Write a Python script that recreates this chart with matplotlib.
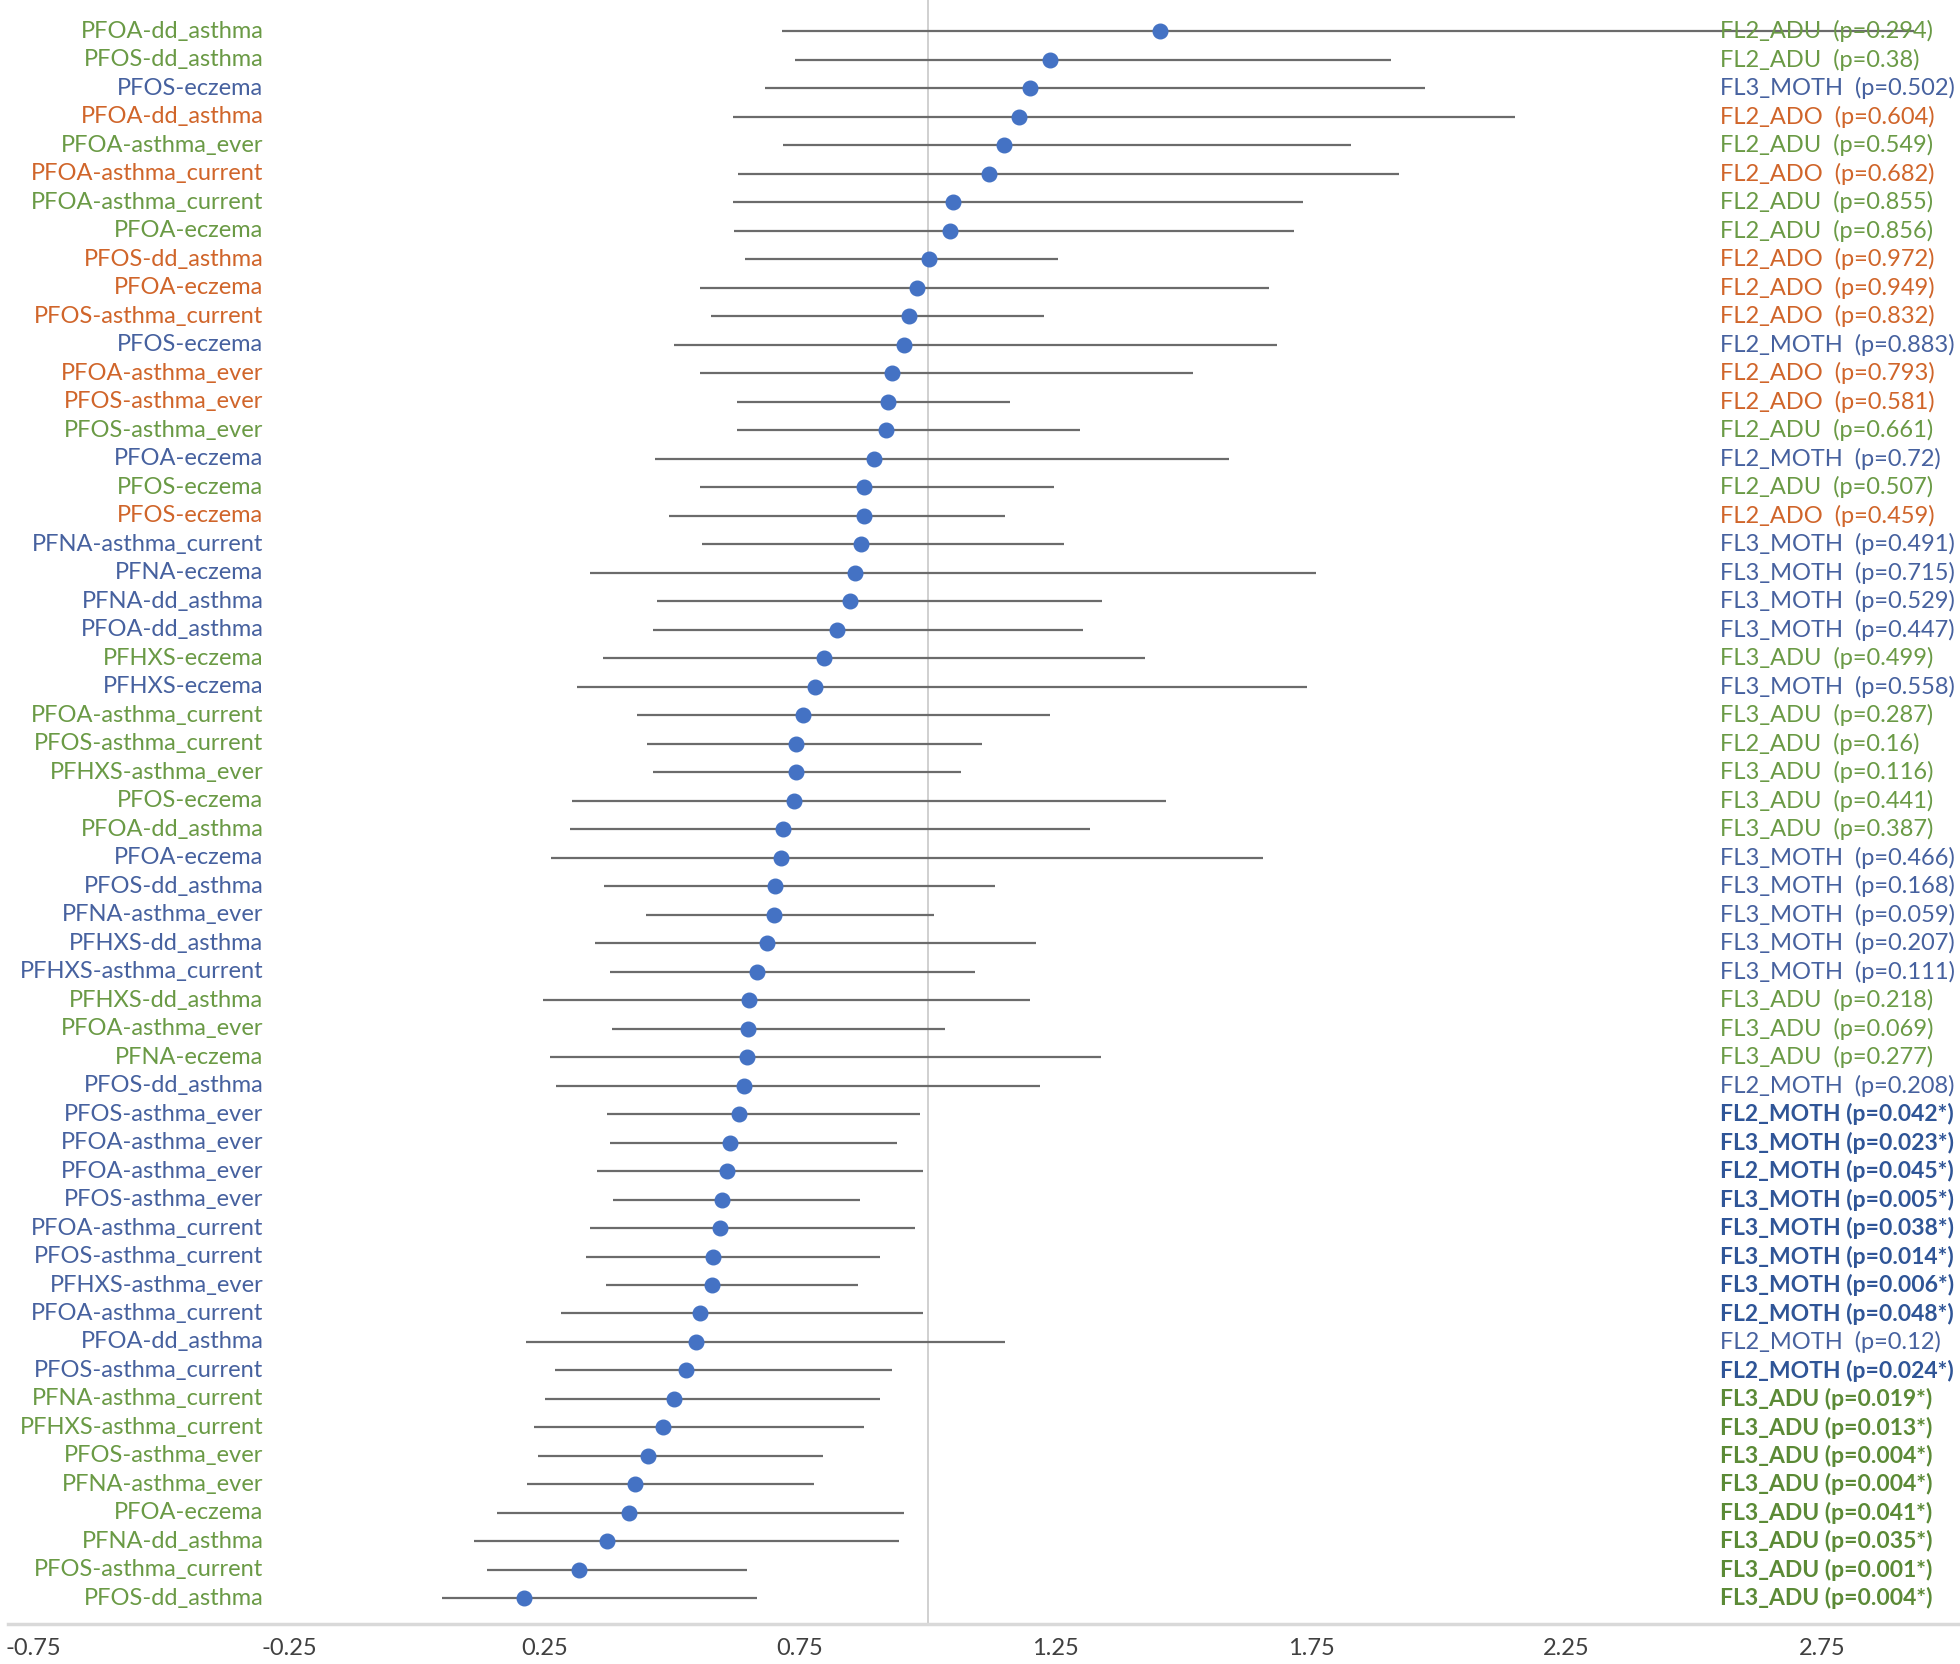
import matplotlib.pyplot as plt
import numpy as np

plt.rcParams['font.family'] = ['Lato', 'DejaVu Sans']

# row labels, top to bottom
labels = ['PFOA-dd_asthma', 'PFOS-dd_asthma', 'PFOS-eczema', 'PFOA-dd_asthma',
          'PFOA-asthma_ever', 'PFOA-asthma_current', 'PFOA-asthma_current', 'PFOA-eczema',
          'PFOS-dd_asthma', 'PFOA-eczema', 'PFOS-asthma_current', 'PFOS-eczema',
          'PFOA-asthma_ever', 'PFOS-asthma_ever', 'PFOS-asthma_ever', 'PFOA-eczema',
          'PFOS-eczema', 'PFOS-eczema', 'PFNA-asthma_current', 'PFNA-eczema',
          'PFNA-dd_asthma', 'PFOA-dd_asthma', 'PFHXS-eczema', 'PFHXS-eczema',
          'PFOA-asthma_current', 'PFOS-asthma_current', 'PFHXS-asthma_ever', 'PFOS-eczema',
          'PFOA-dd_asthma', 'PFOA-eczema', 'PFOS-dd_asthma', 'PFNA-asthma_ever',
          'PFHXS-dd_asthma', 'PFHXS-asthma_current', 'PFHXS-dd_asthma', 'PFOA-asthma_ever',
          'PFNA-eczema', 'PFOS-dd_asthma', 'PFOS-asthma_ever', 'PFOA-asthma_ever',
          'PFOA-asthma_ever', 'PFOS-asthma_ever', 'PFOA-asthma_current', 'PFOS-asthma_current',
          'PFHXS-asthma_ever', 'PFOA-asthma_current', 'PFOA-dd_asthma', 'PFOS-asthma_current',
          'PFNA-asthma_current', 'PFHXS-asthma_current', 'PFOS-asthma_ever', 'PFNA-asthma_ever',
          'PFOA-eczema', 'PFNA-dd_asthma', 'PFOS-asthma_current', 'PFOS-dd_asthma']

groups = ['FL2_ADU', 'FL2_ADU', 'FL3_MOTH', 'FL2_ADO', 'FL2_ADU', 'FL2_ADO', 'FL2_ADU', 'FL2_ADU',
          'FL2_ADO', 'FL2_ADO', 'FL2_ADO', 'FL2_MOTH', 'FL2_ADO', 'FL2_ADO', 'FL2_ADU', 'FL2_MOTH',
          'FL2_ADU', 'FL2_ADO', 'FL3_MOTH', 'FL3_MOTH', 'FL3_MOTH', 'FL3_MOTH', 'FL3_ADU', 'FL3_MOTH',
          'FL3_ADU', 'FL2_ADU', 'FL3_ADU', 'FL3_ADU', 'FL3_ADU', 'FL3_MOTH', 'FL3_MOTH', 'FL3_MOTH',
          'FL3_MOTH', 'FL3_MOTH', 'FL3_ADU', 'FL3_ADU', 'FL3_ADU', 'FL2_MOTH', 'FL2_MOTH', 'FL3_MOTH',
          'FL2_MOTH', 'FL3_MOTH', 'FL3_MOTH', 'FL3_MOTH', 'FL3_MOTH', 'FL2_MOTH', 'FL2_MOTH', 'FL2_MOTH',
          'FL3_ADU', 'FL3_ADU', 'FL3_ADU', 'FL3_ADU', 'FL3_ADU', 'FL3_ADU', 'FL3_ADU', 'FL3_ADU']

pvals = ['0.294', '0.38', '0.502', '0.604', '0.549', '0.682', '0.855', '0.856',
         '0.972', '0.949', '0.832', '0.883', '0.793', '0.581', '0.661', '0.72',
         '0.507', '0.459', '0.491', '0.715', '0.529', '0.447', '0.499', '0.558',
         '0.287', '0.16', '0.116', '0.441', '0.387', '0.466', '0.168', '0.059',
         '0.207', '0.111', '0.218', '0.069', '0.277', '0.208', '0.042*', '0.023*',
         '0.045*', '0.005*', '0.038*', '0.014*', '0.006*', '0.048*', '0.12', '0.024*',
         '0.019*', '0.013*', '0.004*', '0.004*', '0.041*', '0.035*', '0.001*', '0.004*']

est = [1.454, 1.239, 1.200, 1.178, 1.149, 1.120, 1.049, 1.044,
       1.002, 0.980, 0.963, 0.953, 0.931, 0.922, 0.919, 0.895,
       0.875, 0.875, 0.870, 0.858, 0.848, 0.822, 0.797, 0.780,
       0.756, 0.743, 0.743, 0.739, 0.717, 0.712, 0.702, 0.699,
       0.685, 0.665, 0.651, 0.648, 0.646, 0.641, 0.631, 0.614,
       0.607, 0.597, 0.594, 0.580, 0.577, 0.555, 0.546, 0.528,
       0.504, 0.482, 0.453, 0.428, 0.416, 0.372, 0.318, 0.211]

lower = [0.714, 0.741, 0.682, 0.619, 0.717, 0.629, 0.619, 0.621,
         0.643, 0.555, 0.575, 0.504, 0.555, 0.626, 0.626, 0.467,
         0.555, 0.494, 0.558, 0.340, 0.470, 0.463, 0.365, 0.314,
         0.431, 0.450, 0.463, 0.304, 0.301, 0.262, 0.367, 0.448,
         0.348, 0.379, 0.248, 0.382, 0.260, 0.272, 0.372, 0.379,
         0.353, 0.384, 0.340, 0.331, 0.370, 0.282, 0.213, 0.270,
         0.252, 0.230, 0.238, 0.216, 0.157, 0.113, 0.138, 0.050]

upper = [2.930, 1.906, 1.974, 2.150, 1.828, 1.923, 1.735, 1.716,
         1.254, 1.667, 1.227, 1.684, 1.520, 1.161, 1.298, 1.589,
         1.247, 1.151, 1.266, 1.760, 1.342, 1.303, 1.425, 1.742,
         1.239, 1.107, 1.066, 1.466, 1.317, 1.657, 1.132, 1.012,
         1.212, 1.093, 1.200, 1.034, 1.339, 1.220, 0.985, 0.939,
         0.990, 0.868, 0.975, 0.907, 0.863, 0.990, 1.151, 0.931,
         0.907, 0.875, 0.795, 0.778, 0.953, 0.944, 0.646, 0.665]

xticks = [-0.75, -0.25, 0.25, 0.75, 1.25, 1.75, 2.25, 2.75]

colors = {'ADU': '#6a9a45', 'ADO': '#d0652a', 'MOTH': '#46619f'}
bold_colors = {'ADU': '#5b8a36', 'ADO': '#c55a11', 'MOTH': '#2f5597'}

n = len(labels)
y = np.arange(n, 0, -1)
est = np.array(est)
lower = np.array(lower)
upper = np.array(upper)

fig = plt.figure(figsize=(19.6, 16.64), dpi=100)
ax = fig.add_axes([0.004, 0.024, 0.996, 0.976])

ax.axvline(1.0, color='#c8c8c8', lw=1.2, zorder=1)
ax.hlines(y, lower, upper, color='#6b6b6b', lw=1.6, zorder=2)
ax.plot(est, y, 'o', color='#4472c4', markersize=10.5, zorder=3)

fs = 17
for i in range(n):
    g = groups[i].split('_')[1]
    sig = pvals[i].endswith('*')
    ax.text(-0.30, y[i], labels[i], ha='right', va='center', fontsize=fs,
            color=colors[g])
    if sig:
        ax.text(2.55, y[i], '%s (p=%s)' % (groups[i], pvals[i]), ha='left', va='center',
                fontsize=16.5, color=bold_colors[g], fontweight='bold')
    else:
        ax.text(2.55, y[i], '%s  (p=%s)' % (groups[i], pvals[i]), ha='left', va='center',
                fontsize=fs, color=colors[g])

ax.set_xlim(-0.80, 3.02)
ax.set_ylim(0.1, n + 1.1)
ax.set_yticks([])
ax.set_xticks(xticks)
ax.set_xticklabels(['%.2f' % t for t in xticks], fontsize=fs, color='#404040')
ax.tick_params(axis='x', length=0, pad=10)
for s in ['top', 'right', 'left']:
    ax.spines[s].set_visible(False)
ax.spines['bottom'].set_color('#d9d9d9')
ax.spines['bottom'].set_linewidth(2.5)

fig.savefig('out.png', dpi=100)
